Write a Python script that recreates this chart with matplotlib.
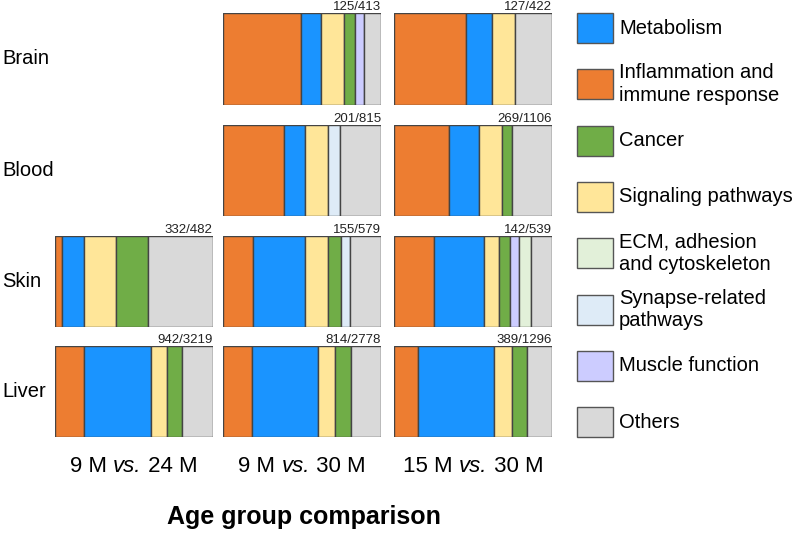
import numpy as np
import matplotlib
matplotlib.use('Agg')
import matplotlib.pyplot as plt
from matplotlib.patches import Rectangle

plt.rcParams['font.family'] = ['Liberation Sans', 'DejaVu Sans']

tissues = ['Brain', 'Blood', 'Skin', 'Liver']
comparisons = [('9 M ', 'vs.', ' 24 M'), ('9 M ', 'vs.', ' 30 M'), ('15 M ', 'vs.', ' 30 M')]

# cells: (row, col)
cells = [(0, 1), (0, 2), (1, 1), (1, 2), (2, 0), (2, 1), (2, 2), (3, 0), (3, 1), (3, 2)]
counts = ['125/413', '127/422', '201/815', '269/1106', '332/482',
          '155/579', '142/539', '942/3219', '814/2778', '389/1296']

# fractions per category for each cell (stacking order left -> right)
inflammation = [0.497, 0.455, 0.387, 0.347, 0.049, 0.190, 0.254, 0.186, 0.184, 0.152]
metabolism   = [0.127, 0.163, 0.135, 0.186, 0.139, 0.332, 0.315, 0.422, 0.419, 0.482]
signaling    = [0.144, 0.148, 0.144, 0.148, 0.200, 0.144, 0.095, 0.105, 0.108, 0.110]
cancer       = [0.066, 0.000, 0.000, 0.064, 0.205, 0.080, 0.066, 0.093, 0.097, 0.095]
synapse      = [0.000, 0.000, 0.074, 0.000, 0.000, 0.059, 0.000, 0.000, 0.000, 0.000]
muscle       = [0.061, 0.000, 0.000, 0.000, 0.000, 0.000, 0.061, 0.000, 0.000, 0.000]
ecm          = [0.000, 0.000, 0.000, 0.000, 0.000, 0.000, 0.072, 0.000, 0.000, 0.000]
others       = [0.106, 0.233, 0.260, 0.254, 0.407, 0.195, 0.137, 0.194, 0.192, 0.161]

stack = [
    (inflammation, '#ed7d31'),
    (metabolism, '#1a94ff'),
    (signaling, '#ffe699'),
    (cancer, '#70ad47'),
    (synapse, '#deebf7'),
    (muscle, '#ccccff'),
    (ecm, '#e2f0d9'),
    (others, '#d9d9d9'),
]

legend_labels = ['Metabolism', 'Inflammation and\nimmune response', 'Cancer',
                 'Signaling pathways', 'ECM, adhesion\nand cytoskeleton',
                 'Synapse-related\npathways', 'Muscle function', 'Others']
legend_colors = ['#1a94ff', '#ed7d31', '#70ad47', '#ffe699', '#e2f0d9',
                 '#deebf7', '#ccccff', '#d9d9d9']

W, H = 794, 533
fig = plt.figure(figsize=(W / 100, H / 100), dpi=100)

col_x = [54.7, 223.0, 394.3]
row_top = [13.0, 124.5, 235.7, 345.7]
box_w, box_h = 158.0, 91.5

for k, (r, c) in enumerate(cells):
    ax = fig.add_axes([col_x[c] / W, 1 - (row_top[r] + box_h) / H, box_w / W, box_h / H])
    left = 0.0
    for vals, color in stack:
        v = vals[k]
        if v > 0:
            ax.barh(0, v, left=left, height=1, color=color, edgecolor='#444444', linewidth=1)
            left += v
    ax.set_xlim(0, left)
    ax.set_ylim(-0.5, 0.5)
    ax.axis('off')
    ax.text(1, 1.028, counts[k], transform=ax.transAxes, ha='right', va='baseline',
            fontsize=9.5, color='#222222')

# overlay axes in pixel coordinates for labels and legend
ov = fig.add_axes([0, 0, 1, 1])
ov.set_xlim(0, W)
ov.set_ylim(H, 0)
ov.axis('off')
ov.patch.set_alpha(0)

for r, name in enumerate(tissues):
    ov.text(2, row_top[r] + box_h / 2, name, ha='left', va='center', fontsize=14.5)

# column labels with italic "vs." built from pieces
renderer = fig.canvas.get_renderer()
for c, parts in enumerate(comparisons):
    styles = ['normal', 'italic', 'normal']
    pieces = []
    for txt, st in zip(parts, styles):
        t = ov.text(0, 466, txt, ha='left', va='center', fontsize=16, fontstyle=st)
        pieces.append(t)
    widths = [p.get_window_extent(renderer).width for p in pieces]
    x = col_x[c] + box_w / 2 - sum(widths) / 2
    for p, w in zip(pieces, widths):
        p.set_x(x)
        x += w

ov.text((col_x[0] + col_x[2] + box_w) / 2, 517, 'Age group comparison',
        ha='center', va='center', fontsize=18, fontweight='bold')

for i, (lab, col) in enumerate(zip(legend_labels, legend_colors)):
    cy = 28 + i * 56.3
    ov.add_patch(Rectangle((577, cy - 15), 36, 30, facecolor=col, edgecolor='#555555', linewidth=1))
    ov.text(619, cy, lab, ha='left', va='center', fontsize=14.5, linespacing=1.25)

fig.savefig('out.png', dpi=100)
